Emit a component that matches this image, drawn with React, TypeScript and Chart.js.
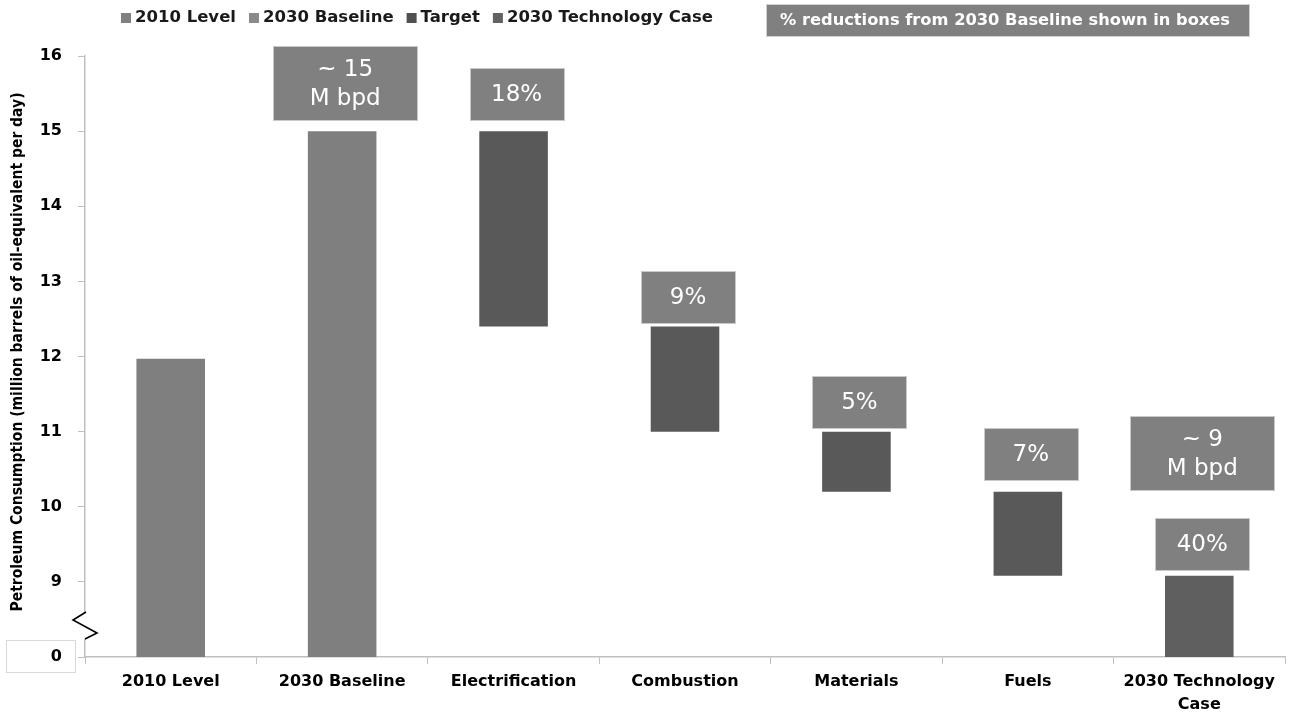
import React, { useEffect, useRef } from "react";
import { Chart, registerables } from "chart.js";

Chart.register(...registerables);

// ---- data ----
const categories: (string | string[])[] = [
  "2010 Level",
  "2030 Baseline",
  "Electrification",
  "Combustion",
  "Materials",
  "Fuels",
  ["2030 Technology", "Case"],
];
const seriesNames = ["2010 Level", "2030 Baseline", "Target", "2030 Technology Case"];
const level2010 = [11.97, null, null, null, null, null, null];
const baseline2030 = [null, 15.0, null, null, null, null, null];
const targetLow = [null, null, 12.4, 11.0, 10.2, 9.08, null];
const targetHigh = [null, null, 15.0, 12.4, 11.0, 10.2, null];
const techCase = [null, null, null, null, null, null, 9.08];
const yTickValues = [8, 9, 10, 11, 12, 13, 14, 15, 16];
const yTickLabels = ["0", "9", "10", "11", "12", "13", "14", "15", "16"];
// annotation boxes: text, category index, value at box bottom
const boxTexts = ["~ 15\nM bpd", "18%", "9%", "5%", "7%", "~ 9\nM bpd", "40%"];
const boxCategory = [1, 2, 3, 4, 5, 6, 6];
const boxBottomValue = [15.15, 15.15, 12.45, 11.05, 10.36, 10.22, 9.16];
const noteText = "% reductions from 2030 Baseline shown in boxes";
const yTitle = "Petroleum Consumption (million barrels of oil-equivalent per day)";

const FONT = "'DejaVu Sans', sans-serif";
const colors = ["#7f7f7f", "#7f7f7f", "#595959", "#5f5f5f"];
const legendColors = ["#808080", "#8a8a8a", "#505050", "#626262"];

const overlayPlugin = {
  id: "overlay",
  afterDraw(chart: any) {
    const ctx = chart.ctx;
    const x = chart.scales.x;
    const y = chart.scales.y;
    ctx.save();

    // annotation boxes
    boxTexts.forEach((t, i) => {
      const lines = t.split("\n");
      const cx = x.getPixelForValue(boxCategory[i]) + 3;
      const bottom = y.getPixelForValue(boxBottomValue[i]);
      const w = lines.length > 1 ? 144 : 94;
      const h = lines.length > 1 ? 74 : 52;
      const left = Math.round(cx - w / 2) + 0.5;
      const top = Math.round(bottom - h) + 0.5;
      ctx.fillStyle = "#808080";
      ctx.fillRect(left, top, w, h);
      ctx.strokeStyle = "#c9c9c9";
      ctx.lineWidth = 1;
      ctx.strokeRect(left, top, w, h);
      ctx.fillStyle = "#ffffff";
      ctx.font = `23px ${FONT}`;
      ctx.textAlign = "center";
      ctx.textBaseline = "middle";
      const lh = 29;
      const mid = top + h / 2 + 1;
      lines.forEach((ln, k) => {
        ctx.fillText(ln, cx, mid + (k - (lines.length - 1) / 2) * lh);
      });
    });

    // legend
    ctx.font = `bold 16.5px ${FONT}`;
    ctx.textAlign = "left";
    ctx.textBaseline = "middle";
    let lx = 121;
    const ly = 18;
    seriesNames.forEach((name, i) => {
      ctx.fillStyle = legendColors[i];
      ctx.fillRect(lx, ly - 5, 10, 10);
      lx += 14;
      ctx.fillStyle = "#1a1a1a";
      ctx.fillText(name, lx, ly);
      lx += ctx.measureText(name).width + 13;
    });

    // note box
    ctx.fillStyle = "#808080";
    ctx.fillRect(766.5, 4.5, 483, 32);
    ctx.strokeStyle = "#d0d0d0";
    ctx.strokeRect(766.5, 4.5, 483, 32);
    ctx.save();
    ctx.fillStyle = "#ffffff";
    ctx.font = `bold 16px ${FONT}`;
    ctx.textAlign = "center";
    const nw = ctx.measureText(noteText).width;
    ctx.translate(1005, 21);
    ctx.scale(450 / nw, 1);
    ctx.fillText(noteText, 0, 0);
    ctx.restore();

    // y axis title
    ctx.save();
    ctx.translate(18, 352);
    ctx.rotate(-Math.PI / 2);
    ctx.font = `bold 16px 'Liberation Sans Narrow', 'Arial Narrow', 'DejaVu Sans Condensed', sans-serif`;
    const tw = ctx.measureText(yTitle).width;
    ctx.scale(519 / tw, 1);
    ctx.fillStyle = "#000000";
    ctx.textAlign = "center";
    ctx.textBaseline = "middle";
    ctx.fillText(yTitle, 0, 0);
    ctx.restore();

    // axis break
    const ax = Math.round(y.right) + 0.5;
    ctx.fillStyle = "#ffffff";
    ctx.fillRect(ax - 2, 613, 4, 26);
    ctx.strokeStyle = "#000000";
    ctx.lineWidth = 1.6;
    ctx.beginPath();
    ctx.moveTo(86, 612);
    ctx.lineTo(73, 620);
    ctx.lineTo(97, 633);
    ctx.lineTo(85, 639);
    ctx.stroke();

    // box around zero label
    ctx.strokeStyle = "#d9d9d9";
    ctx.lineWidth = 1;
    ctx.strokeRect(6.5, 640.5, 69, 32);

    ctx.restore();
  },
};

export default function App() {
  const ref = useRef<HTMLCanvasElement>(null);
  useEffect(() => {
    document.body.style.margin = "0";
    const target = targetLow.map((lo, i) =>
      lo === null ? null : [lo, targetHigh[i] as number]
    );
    const chart = new Chart(ref.current as HTMLCanvasElement, {
      type: "bar",
      data: {
        labels: categories as any,
        datasets: [
          { label: seriesNames[0], data: level2010 as any, backgroundColor: colors[0] },
          { label: seriesNames[1], data: baseline2030 as any, backgroundColor: colors[1] },
          { label: seriesNames[2], data: target as any, backgroundColor: colors[2] },
          { label: seriesNames[3], data: techCase as any, backgroundColor: colors[3] },
        ],
      },
      options: {
        responsive: false,
        animation: false,
        devicePixelRatio: 1,
        layout: { padding: { top: 56, right: 4, left: 0, bottom: 0 } },
        datasets: {
          bar: { grouped: false, categoryPercentage: 1, barPercentage: 0.4 },
        } as any,
        plugins: {
          legend: { display: false },
          title: { display: false },
          tooltip: { enabled: false },
        },
        scales: {
          x: {
            grid: {
              drawOnChartArea: false,
              drawTicks: true,
              tickLength: 7,
              color: "#bfbfbf",
              offset: true,
            },
            border: { display: true, color: "#bfbfbf", width: 1.5 },
            ticks: {
              color: "#000000",
              font: { family: FONT, size: 16, weight: "bold", lineHeight: 1.4 },
              padding: 7,
              maxRotation: 0,
              autoSkip: false,
            },
            afterFit(scale: any) {
              scale.height = 58;
              scale.paddingLeft = 0;
              scale.paddingRight = 0;
            },
          },
          y: {
            min: 8,
            max: 16,
            afterBuildTicks(scale: any) {
              scale.ticks = yTickValues.map((v) => ({ value: v }));
            },
            grid: {
              drawOnChartArea: false,
              drawTicks: true,
              tickLength: 7,
              color: "#bfbfbf",
            },
            border: { display: true, color: "#bfbfbf", width: 1.5 },
            ticks: {
              color: "#000000",
              font: { family: FONT, size: 16, weight: "bold" },
              padding: 16,
              callback: (v: any) => {
                const idx = yTickValues.indexOf(Number(v));
                return idx >= 0 ? yTickLabels[idx] : "";
              },
            },
            afterFit(scale: any) {
              scale.width = 85;
              scale.paddingTop = 0;
              scale.paddingBottom = 0;
            },
          },
        },
      },
      plugins: [overlayPlugin],
    });
    return () => chart.destroy();
  }, []);
  return (
    <div style={{ position: "absolute", left: 0, top: 0, width: 1289, height: 715, background: "#fff" }}>
      <canvas ref={ref} width={1289} height={715} />
    </div>
  );
}
